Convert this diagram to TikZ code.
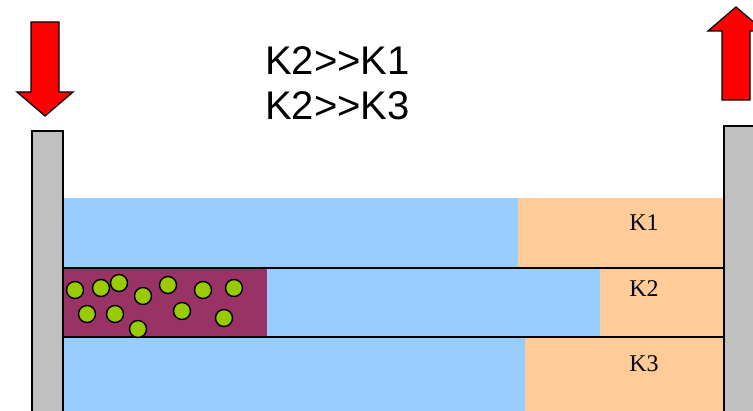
\documentclass[tikz,border=0pt]{standalone}
\usepackage{fontspec}
\setmainfont{Liberation Serif}
\newfontfamily\arialfont{Liberation Sans}
\definecolor{plategray}{HTML}{C0C0C0}
\definecolor{laneblue}{HTML}{99CCFF}
\definecolor{laneorange}{HTML}{FFCC99}
\definecolor{plugpurple}{HTML}{993366}
\definecolor{ballgreen}{HTML}{99CC00}

\begin{document}
\begin{tikzpicture}[x=1pt,y=-1pt,
    plate/.style={fill=plategray,draw=black,line width=2pt},
    pusharrow/.style={fill=red,draw=black,line width=1.3pt,line join=miter},
    ball/.style={circle,fill=ballgreen,draw=black,line width=1.4pt,minimum size=17pt,inner sep=0pt},
    lanelabel/.style={font=\fontsize{24}{26}\selectfont,inner sep=0pt,anchor=base},
    ratiotext/.style={font=\arialfont\fontsize{40}{45}\selectfont,inner sep=0pt,anchor=base west}]
    \useasboundingbox (0,0) rectangle (753,411);
    % Lanes:
    % blue part first, orange part up to the right plate
    \fill[laneblue] (63,198) rectangle (518,268);
    \fill[laneorange] (518,198) rectangle (724,268);
    \fill[laneblue] (63,268) rectangle (600,337);
    \fill[laneorange] (600,268) rectangle (724,337);
    \fill[laneblue] (63,337) rectangle (525,411);
    \fill[laneorange] (525,337) rectangle (724,411);
    % the plug in the middle lane
    \fill[plugpurple] (63,268) rectangle (267,337);
    \draw[line width=2pt] (63,268) -- (724,268);
    \draw[line width=2pt] (63,337) -- (724,337);

    \foreach \x/\y [count=\i] in {75/290,101/288,119/283,143/296,168/285,203/290,234/288,
                                  87/314,115/314,182/311,224/318,138/329}{%
        \node[ball] (ball\i) at (\x,\y) {};
    }

    % Plates:
    \draw[plate] (32,131) rectangle (63,420);
    \draw[plate] (724,126) rectangle (770,420);

    % Arrows:
    \draw[pusharrow] (31,22) -- (59,22) -- (59,92) -- (73,92) -- (45,116)
        -- (17,92) -- (31,92) -- cycle;
    \draw[pusharrow] (722,100) -- (750,100) -- (750,31) -- (764,31) -- (736,7)
        -- (708,31) -- (722,31) -- cycle;

    % Labels:
    \node[ratiotext] (ratio1) at (265,75) {K2>>K1};
    \node[ratiotext] (ratio2) at (265,120) {K2>>K3};
    \node[lanelabel] (k1) at (644,231) {K1};
    \node[lanelabel] (k2) at (644,297) {K2};
    \node[lanelabel] (k3) at (644,372) {K3};
\end{tikzpicture}
\end{document}
